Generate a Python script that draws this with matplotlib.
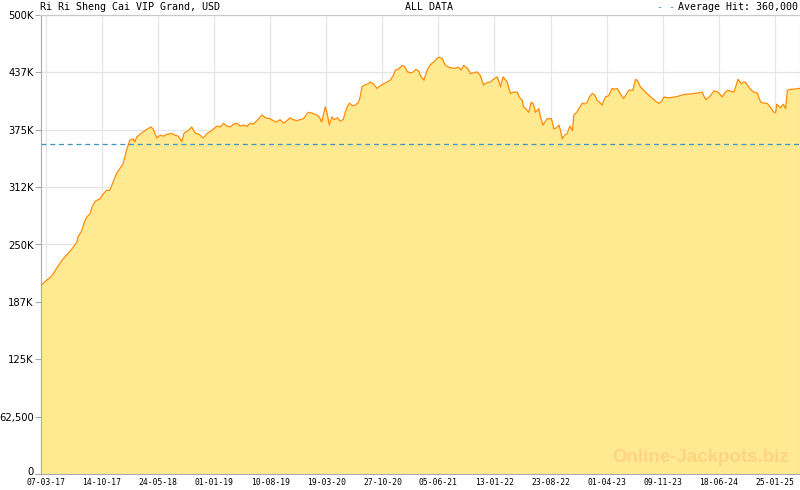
"""
Jackpot history chart: Ri Ri Sheng Cai VIP Grand
"""
import numpy as np
import matplotlib
matplotlib.use('Agg')
import matplotlib.pyplot as plt
import matplotlib.dates as mdates
import matplotlib.transforms as mtransforms

# jackpot value over time (thousands USD)
dates = ['2017-02-13', '2017-03-30', '2017-05-08', '2017-06-17', '2017-07-07', '2017-07-11',
         '2017-07-26', '2017-08-05', '2017-08-15', '2017-08-28', '2017-09-06', '2017-09-17',
         '2017-10-07', '2017-10-19', '2017-11-01', '2017-11-14', '2017-11-27', '2017-12-10',
         '2017-12-24', '2018-01-06', '2018-01-19', '2018-02-01', '2018-02-15', '2018-02-21',
         '2018-02-28', '2018-03-13', '2018-04-02', '2018-04-25', '2018-05-04', '2018-05-19',
         '2018-06-01', '2018-06-14', '2018-06-28', '2018-07-17', '2018-07-30', '2018-08-12',
         '2018-08-26', '2018-09-04', '2018-09-20', '2018-10-04', '2018-10-17', '2018-11-02',
         '2018-11-19', '2018-12-04', '2018-12-22', '2019-01-12', '2019-01-25', '2019-02-07',
         '2019-02-19', '2019-03-05', '2019-03-18', '2019-04-01', '2019-04-14', '2019-04-27',
         '2019-05-10', '2019-05-23', '2019-06-04', '2019-06-19', '2019-07-09', '2019-07-22',
         '2019-08-10', '2019-08-22', '2019-09-05', '2019-09-18', '2019-10-02', '2019-10-16',
         '2019-10-28', '2019-11-09', '2019-11-24', '2019-12-07', '2019-12-20', '2019-12-30',
         '2020-01-08', '2020-01-23', '2020-02-11', '2020-02-20', '2020-03-01', '2020-03-15',
         '2020-03-23', '2020-03-31', '2020-04-10', '2020-04-19', '2020-05-01', '2020-05-13',
         '2020-05-25', '2020-06-02', '2020-06-10', '2020-06-19', '2020-06-30', '2020-07-12',
         '2020-07-25', '2020-08-01', '2020-08-07', '2020-08-20', '2020-09-01', '2020-09-09',
         '2020-09-21', '2020-10-06', '2020-10-19', '2020-11-01', '2020-11-14', '2020-11-27',
         '2020-12-09', '2020-12-17', '2020-12-29', '2021-01-13', '2021-01-22', '2021-02-03',
         '2021-02-15', '2021-02-27', '2021-03-07', '2021-03-19', '2021-03-26', '2021-04-09',
         '2021-04-22', '2021-05-05', '2021-05-18', '2021-05-29', '2021-06-06', '2021-06-20',
         '2021-07-03', '2021-07-19', '2021-08-05', '2021-08-23', '2021-09-04', '2021-09-13',
         '2021-09-28', '2021-10-10', '2021-10-22', '2021-11-05', '2021-11-18', '2021-12-01',
         '2021-12-12', '2021-12-28', '2022-01-09', '2022-01-24', '2022-02-06', '2022-02-16',
         '2022-03-04', '2022-03-17', '2022-03-29', '2022-04-13', '2022-04-22', '2022-05-03',
         '2022-05-08', '2022-05-16', '2022-05-29', '2022-06-07', '2022-06-16', '2022-06-24',
         '2022-07-07', '2022-07-13', '2022-07-24', '2022-08-09', '2022-08-26', '2022-09-05',
         '2022-09-15', '2022-09-25', '2022-10-01', '2022-10-08', '2022-10-17', '2022-10-28',
         '2022-11-07', '2022-11-17', '2022-11-23', '2022-12-04', '2022-12-13', '2022-12-26',
         '2023-01-04', '2023-01-15', '2023-01-24', '2023-02-04', '2023-02-13', '2023-02-23',
         '2023-03-04', '2023-03-15', '2023-03-20', '2023-03-28', '2023-04-09', '2023-04-23',
         '2023-05-02', '2023-05-13', '2023-05-26', '2023-06-08', '2023-06-19', '2023-06-28',
         '2023-07-15', '2023-07-19', '2023-07-25', '2023-08-02', '2023-08-13', '2023-08-29',
         '2023-09-15', '2023-09-30', '2023-10-12', '2023-10-25', '2023-11-05', '2023-11-14',
         '2023-11-25', '2023-12-11', '2024-01-03', '2024-02-01', '2024-02-28', '2024-03-27',
         '2024-04-14', '2024-04-19', '2024-04-28', '2024-05-13', '2024-05-30', '2024-06-14',
         '2024-07-02', '2024-07-11', '2024-07-22', '2024-08-04', '2024-08-17', '2024-09-02',
         '2024-09-15', '2024-09-24', '2024-10-02', '2024-10-14', '2024-10-22', '2024-11-03',
         '2024-11-18', '2024-11-23', '2024-12-01', '2024-12-13', '2024-12-27', '2025-01-09',
         '2025-01-22', '2025-01-29', '2025-02-02', '2025-02-09', '2025-02-17', '2025-02-28',
         '2025-03-09', '2025-03-16', '2025-03-29', '2025-04-18', '2025-05-03']
values_k = [205, 216, 232.5, 245, 252.5, 258,
            265, 274, 280, 283.5, 291.5, 297,
            300, 305, 309, 309, 318, 327,
            332.6, 338, 352.6, 363.5, 365, 361.7,
            367, 370, 374, 378, 376, 366,
            369, 368, 370, 371, 369, 368,
            362, 371.5, 374, 378, 371.5, 370,
            366, 371, 374, 379, 378, 382,
            379, 378, 381, 382, 379, 380,
            378.5, 382, 381, 385, 391, 388,
            387, 385, 383.5, 386, 382, 385,
            388, 386, 385, 386, 387, 391,
            394, 393, 391, 389, 383.5, 400,
            392, 380, 389, 386, 388, 384.5,
            386, 394, 400, 404, 401, 402,
            405, 412, 421.7, 424, 425, 427,
            425, 420, 423, 425, 427, 429,
            434, 440, 441, 445, 444, 438,
            437, 438, 440.7, 439, 434, 429,
            440, 446, 449, 452, 454, 452.7,
            445, 443, 441.8, 443, 440, 445,
            442, 436, 437, 438, 434, 423.6,
            426, 427, 430, 432.6, 421.7, 432.6,
            427, 414.5, 416, 416, 410, 407,
            400, 398, 394, 405, 403, 394,
            398, 390, 380, 387, 387, 376,
            377, 380, 374, 365, 369, 371,
            379, 374, 391, 394, 398, 404,
            403, 405, 411, 414.5, 413, 407,
            405, 401.7, 406, 410.8, 412, 420,
            419, 420, 414, 409, 414, 418,
            418, 424, 430, 428, 421.7, 417,
            412.7, 409, 406, 403.6, 406, 410.8,
            410, 410, 411, 413.4, 414, 415,
            416, 412, 408, 411, 417.4, 416,
            410.8, 415, 418, 417, 416, 430,
            425, 427, 426.6, 422, 418.8, 416,
            415, 410, 405, 404, 403.6, 399,
            394, 394, 402.8, 401, 399, 402.8,
            398, 418, 419, 419.5, 420]

average_hit = 360000
tick_dates = ['2017-03-07', '2017-10-14', '2018-05-24', '2019-01-01', '2019-08-10',
              '2020-03-19', '2020-10-27', '2021-06-05', '2022-01-13', '2022-08-23',
              '2023-04-01', '2023-11-09', '2024-06-18', '2025-01-25']
y_ticks = [0, 62500, 125000, 187500, 250000, 312500, 375000, 437500, 500000]
y_labels = ['0', '62,500', '125K', '187K', '250K', '312K', '375K', '437K', '500K']

x = mdates.date2num(np.array(dates, dtype='datetime64[D]'))
y = np.array(values_k) * 1000
xt = mdates.date2num(np.array(tick_dates, dtype='datetime64[D]'))

W, H = 800, 490
fig = plt.figure(figsize=(8, 4.9), dpi=100)
ax = fig.add_axes([40.5 / W, 1 - 474 / H, 759 / W, 459 / H])

ax.fill_between(x, 0, y, color='#FFEA92', lw=0, zorder=2)
ax.plot(x, y, color='#FF8A00', lw=0.9, zorder=3)
ax.axhline(average_hit, color='#3D95C4', lw=0.9, ls=(0, (4, 3)), zorder=4)

ax.set_xlim(x[0], x[-1])
ax.set_ylim(0, 500000)

ax.set_yticks(y_ticks)
ax.set_yticklabels(y_labels, fontsize=7.2, family='DejaVu Sans')
ax.set_xticks(xt)
ax.set_xticklabels([mdates.num2date(t).strftime('%d-%m-%y') for t in xt],
                   fontsize=5.8, family='DejaVu Sans Mono')
minor = []
for a, b in zip(xt[:-1], xt[1:]):
    minor += list(np.linspace(a, b, 6)[1:-1])
minor += list(np.linspace(xt[-1], xt[-1] + (xt[-1] - xt[-2]), 6)[1:3])
ax.set_xticks(minor, minor=True)

ax.tick_params(axis='x', which='major', direction='in', length=5, color='#AAAAAA', pad=3)
ax.tick_params(axis='x', which='minor', direction='in', length=3, color='#AAAAAA')
ax.tick_params(axis='y', direction='out', length=4, color='#AAAAAA', pad=1)

# lift the "0" label a little so it sits above the date labels
zero_lbl = ax.get_yticklabels()[0]
zero_lbl.set_transform(zero_lbl.get_transform() +
                       mtransforms.ScaledTranslation(0, 3 / 100, fig.dpi_scale_trans))

ax.grid(True, which='major', color='#E6E6E6', lw=0.9, zorder=1)
ax.set_axisbelow(True)
for side in ['left', 'bottom']:
    ax.spines[side].set_color('#AAAAAA')
for side in ['top', 'right']:
    ax.spines[side].set_color('#C8C8C8')
    ax.spines[side].set_linewidth(0.8)

# header texts
fig.text(40 / W, 1 - 7 / H, 'Ri Ri Sheng Cai VIP Grand, USD', fontsize=7.2,
         family='DejaVu Sans Mono', va='center', ha='left')
fig.text(429 / W, 1 - 7 / H, 'ALL DATA', fontsize=7.2, family='DejaVu Sans Mono',
         va='center', ha='center')
fig.text(798 / W, 1 - 7 / H, 'Average Hit: 360,000', fontsize=7.2,
         family='DejaVu Sans Mono', va='center', ha='right')
fig.text(675 / W, 1 - 7 / H, '- -', fontsize=7.2, family='DejaVu Sans Mono',
         va='center', ha='right', color='#3D95C4')

# watermark
fig.text(789 / W, 1 - 457 / H, 'Online-Jackpots.biz', fontsize=13.5, weight='bold',
         family='Liberation Sans', color='#FFD480', ha='right', va='center', zorder=5)

fig.savefig('out.png', dpi=100)
